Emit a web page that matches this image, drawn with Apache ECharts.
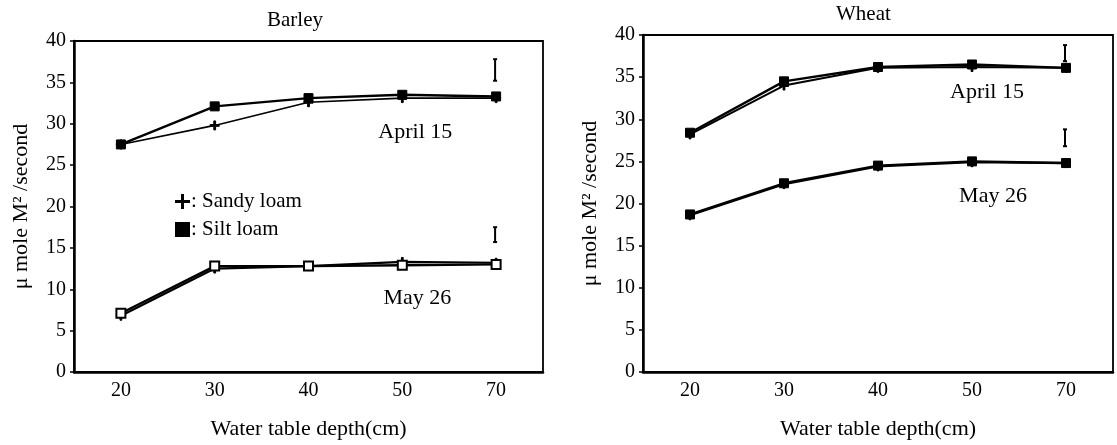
<!DOCTYPE html>
<html>
<head>
<meta charset="utf-8">
<script src="https://cdn.jsdelivr.net/npm/echarts@6/dist/echarts.min.js"></script>
<style>
  html, body { margin: 0; padding: 0; background: #fff; }
  #chart { width: 1117px; height: 445px; }
</style>
</head>
<body>
<div id="chart"></div>
<script>
// water table depth categories
var depthLabels = ["20", "30", "40", "50", "70"];

// Barley
var barleyAprSandy = [27.5, 29.8, 32.6, 33.1, 33.1];
var barleyAprSilt = [27.5, 32.1, 33.1, 33.5, 33.3];
var barleyMaySandy = [6.8, 12.5, 12.8, 13.3, 13.2];
var barleyMaySilt = [7.1, 12.8, 12.8, 12.9, 13.0];

// Wheat
var wheatAprSandy = [28.2, 34.0, 36.1, 36.2, 36.1];
var wheatAprSilt = [28.4, 34.5, 36.2, 36.5, 36.1];
var wheatMaySandy = [18.6, 22.3, 24.4, 24.9, 24.8];
var wheatMaySilt = [18.7, 22.4, 24.5, 25.0, 24.8];

// error bars: [category index, low, high]
var barleyErr = [[4, 35.2, 37.8], [4, 15.7, 17.5]];
var wheatErr = [[4, 36.9, 38.8], [4, 26.8, 28.8]];

// date labels: [category index, value, text]
var barleyNotes = [[3, 29.0, "April 15"], [3, 8.9, "May 26"]];
var wheatNotes = [[3, 33.2, "April 15"], [3, 20.9, "May 26"]];

var yTicks = [0, 5, 10, 15, 20, 25, 30, 35, 40];

var FONT = "Liberation Serif";
var plusPath = "path://M4,0h2v4h4v2h-4v4h-2v-4h-4v-2h4z";

function xAxisFor(grid) {
  return {
    type: "category",
    gridIndex: grid,
    data: depthLabels,
    name: "Water table depth(cm)",
    nameLocation: "middle",
    nameGap: 46,
    nameTextStyle: { color: "#000", fontFamily: FONT, fontSize: 22 },
    axisLine: { lineStyle: { color: "#000", width: 2.5 } },
    axisTick: { alignWithLabel: true, length: 4, lineStyle: { color: "#000", width: 1.5 } },
    axisLabel: { color: "#000", fontFamily: FONT, fontSize: 20, margin: 9 },
    splitLine: { show: false }
  };
}

function yAxisFor(grid) {
  return {
    type: "value",
    gridIndex: grid,
    min: 0,
    max: 40,
    interval: 5,
    name: "\u03bc mole M\u00b2 /second",
    nameLocation: "middle",
    nameGap: 42,
    nameTextStyle: { color: "#000", fontFamily: FONT, fontSize: 22 },
    axisLine: { show: true, lineStyle: { color: "#000", width: 2.5 } },
    axisTick: { show: true, length: 4, lineStyle: { color: "#000", width: 1.5 } },
    axisLabel: {
      color: "#000", fontFamily: FONT, fontSize: 20, margin: 8,
      formatter: function (v) { return yTicks.indexOf(v) >= 0 ? String(v) : ""; }
    },
    splitLine: { show: false }
  };
}

function lineSeries(name, data, grid, symbol, size, width) {
  return {
    name: name,
    type: "line",
    xAxisIndex: grid,
    yAxisIndex: grid,
    data: data,
    symbol: symbol,
    symbolSize: size,
    showSymbol: true,
    lineStyle: { color: "#000", width: width },
    itemStyle: { color: "#000", borderColor: "#000" },
    emphasis: { disabled: true },
    z: 3
  };
}

function errRender(params, api) {
  var x = api.value(0);
  var top = api.coord([x, api.value(2)]);
  var bot = api.coord([x, api.value(1)]);
  var cx = top[0] - 1;
  var st = { stroke: "#000", lineWidth: 2 };
  return {
    type: "group",
    children: [
      { type: "line", shape: { x1: cx, y1: top[1], x2: cx, y2: bot[1] }, style: st },
      { type: "line", shape: { x1: cx - 2, y1: top[1], x2: cx + 2, y2: top[1] }, style: st },
      { type: "line", shape: { x1: cx - 2, y1: bot[1], x2: cx + 2, y2: bot[1] }, style: st }
    ]
  };
}

function errSeries(data, grid) {
  return {
    name: "err" + grid,
    type: "custom",
    xAxisIndex: grid,
    yAxisIndex: grid,
    data: data,
    renderItem: errRender,
    silent: true,
    z: 4
  };
}

function noteSeries(data, grid, offsets) {
  return {
    name: "note" + grid,
    type: "scatter",
    xAxisIndex: grid,
    yAxisIndex: grid,
    symbolSize: 1,
    itemStyle: { color: "rgba(0,0,0,0)", opacity: 1 },
    silent: true,
    data: data.map(function (d, i) {
      return {
        value: [d[0], d[1]],
        label: {
          show: true,
          position: "inside",
          offset: offsets[i],
          formatter: d[2],
          color: "#000",
          opacity: 1,
          fontFamily: FONT,
          fontSize: 22
        }
      };
    })
  };
}

var chart = echarts.init(document.getElementById("chart"));
chart.setOption({
  animation: false,
  backgroundColor: "#fff",
  graphic: [
    { type: "text", left: 267, top: 10, style: { text: "Barley", font: "21px " + FONT, fill: "#000" } },
    { type: "text", left: 836, top: 4, style: { text: "Wheat", font: "21px " + FONT, fill: "#000" } }
  ],
  legend: {
    orient: "vertical",
    left: 170,
    top: 186,
    itemWidth: 15,
    itemHeight: 15,
    itemGap: 7,
    selectedMode: false,
    formatter: ": {name}",
    textStyle: { color: "#000", fontFamily: FONT, fontSize: 21, padding: [0, 0, 0, -4] },
    data: [
      { name: "Sandy loam", icon: plusPath },
      { name: "Silt loam", icon: "rect" }
    ]
  },
  grid: [
    { left: 74, top: 41, width: 469, height: 339, show: true, borderColor: "#000", borderWidth: 1.8 },
    { left: 643, top: 35, width: 470, height: 339, show: true, borderColor: "#000", borderWidth: 1.8 }
  ],
  xAxis: [xAxisFor(0), xAxisFor(1)],
  yAxis: [yAxisFor(0), yAxisFor(1)],
  series: [
    lineSeries("Sandy loam", barleyAprSandy, 0, plusPath, 9, 1.6),
    lineSeries("Silt loam", barleyAprSilt, 0, "rect", 9, 2.4),
    lineSeries("Sandy loam", barleyMaySandy, 0, plusPath, 9, 2.2),
    lineSeries("Silt loam", barleyMaySilt, 0, "emptyRect", 9, 2.4),
    lineSeries("Sandy loam", wheatAprSandy, 1, plusPath, 9, 2),
    lineSeries("Silt loam", wheatAprSilt, 1, "rect", 9, 2.4),
    lineSeries("Sandy loam", wheatMaySandy, 1, plusPath, 9, 2.2),
    lineSeries("Silt loam", wheatMaySilt, 1, "rect", 9, 2.4),
    errSeries(barleyErr, 0),
    errSeries(wheatErr, 1),
    noteSeries(barleyNotes, 0, [[13, 0], [15, 0]]),
    noteSeries(wheatNotes, 1, [[15, 0], [21, 0]])
  ]
});
</script>
</body>
</html>
